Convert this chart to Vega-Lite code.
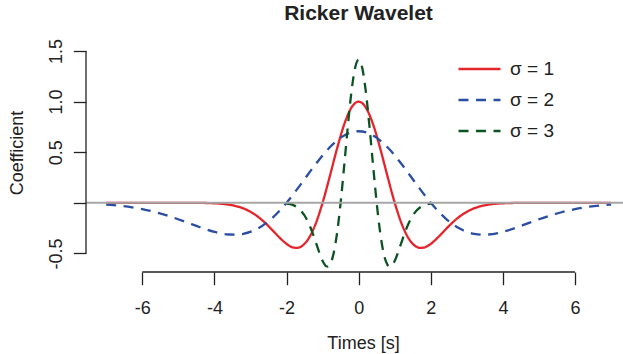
{
  "$schema": "https://vega.github.io/schema/vega-lite/v6.json",
  "width": 537,
  "height": 221,
  "autosize": {"type": "none"},
  "padding": {"left": 86, "top": 51, "right": 0, "bottom": 82},
  "title": {"text": "Ricker Wavelet", "font": "Liberation Sans", "fontSize": 21, "fontWeight": "bold", "color": "#222222", "anchor": "middle", "frame": "group", "baseline": "alphabetic", "offset": -2.7, "dx": 4},
  "config": {"view": {"stroke": null}, "font": "Liberation Sans"},
  "layer": [
    {
      "data": {"values": [
        {"t": -7, "v": 0, "s": "σ = 1"}, {"t": -6.5, "v": 0, "s": "σ = 1"}, {"t": -6, "v": 0, "s": "σ = 1"}, {"t": -5.5, "v": 0, "s": "σ = 1"}, {"t": -5, "v": 0, "s": "σ = 1"},
        {"t": -4.8, "v": -0.0002, "s": "σ = 1"}, {"t": -4.6, "v": -0.0005, "s": "σ = 1"}, {"t": -4.4, "v": -0.0011, "s": "σ = 1"}, {"t": -4.2, "v": -0.0025, "s": "σ = 1"}, {"t": -4.0, "v": -0.005, "s": "σ = 1"},
        {"t": -3.8, "v": -0.0098, "s": "σ = 1"}, {"t": -3.6, "v": -0.0183, "s": "σ = 1"}, {"t": -3.4, "v": -0.0326, "s": "σ = 1"}, {"t": -3.2, "v": -0.0552, "s": "σ = 1"}, {"t": -3.0, "v": -0.0889, "s": "σ = 1"},
        {"t": -2.8, "v": -0.1357, "s": "σ = 1"}, {"t": -2.6, "v": -0.196, "s": "σ = 1"}, {"t": -2.4, "v": -0.2672, "s": "σ = 1"}, {"t": -2.2, "v": -0.3415, "s": "σ = 1"}, {"t": -2.0, "v": -0.406, "s": "σ = 1"},
        {"t": -1.8, "v": -0.4433, "s": "σ = 1"}, {"t": -1.7, "v": -0.4455, "s": "σ = 1"}, {"t": -1.6, "v": -0.4337, "s": "σ = 1"}, {"t": -1.4, "v": -0.3603, "s": "σ = 1"}, {"t": -1.2, "v": -0.2142, "s": "σ = 1"},
        {"t": -1.0, "v": 0, "s": "σ = 1"}, {"t": -0.8, "v": 0.2614, "s": "σ = 1"}, {"t": -0.6, "v": 0.5346, "s": "σ = 1"}, {"t": -0.4, "v": 0.7754, "s": "σ = 1"}, {"t": -0.2, "v": 0.941, "s": "σ = 1"},
        {"t": 0, "v": 1, "s": "σ = 1"},
        {"t": 0.2, "v": 0.941, "s": "σ = 1"}, {"t": 0.4, "v": 0.7754, "s": "σ = 1"}, {"t": 0.6, "v": 0.5346, "s": "σ = 1"}, {"t": 0.8, "v": 0.2614, "s": "σ = 1"}, {"t": 1.0, "v": 0, "s": "σ = 1"},
        {"t": 1.2, "v": -0.2142, "s": "σ = 1"}, {"t": 1.4, "v": -0.3603, "s": "σ = 1"}, {"t": 1.6, "v": -0.4337, "s": "σ = 1"}, {"t": 1.7, "v": -0.4455, "s": "σ = 1"}, {"t": 1.8, "v": -0.4433, "s": "σ = 1"},
        {"t": 2.0, "v": -0.406, "s": "σ = 1"}, {"t": 2.2, "v": -0.3415, "s": "σ = 1"}, {"t": 2.4, "v": -0.2672, "s": "σ = 1"}, {"t": 2.6, "v": -0.196, "s": "σ = 1"}, {"t": 2.8, "v": -0.1357, "s": "σ = 1"},
        {"t": 3.0, "v": -0.0889, "s": "σ = 1"}, {"t": 3.2, "v": -0.0552, "s": "σ = 1"}, {"t": 3.4, "v": -0.0326, "s": "σ = 1"}, {"t": 3.6, "v": -0.0183, "s": "σ = 1"}, {"t": 3.8, "v": -0.0098, "s": "σ = 1"},
        {"t": 4.0, "v": -0.005, "s": "σ = 1"}, {"t": 4.2, "v": -0.0025, "s": "σ = 1"}, {"t": 4.4, "v": -0.0011, "s": "σ = 1"}, {"t": 4.6, "v": -0.0005, "s": "σ = 1"}, {"t": 4.8, "v": -0.0002, "s": "σ = 1"},
        {"t": 5, "v": 0, "s": "σ = 1"}, {"t": 5.5, "v": 0, "s": "σ = 1"}, {"t": 6, "v": 0, "s": "σ = 1"}, {"t": 6.5, "v": 0, "s": "σ = 1"}, {"t": 7, "v": 0, "s": "σ = 1"},

        {"t": -7, "v": -0.0174, "s": "σ = 2"}, {"t": -6.8, "v": -0.0231, "s": "σ = 2"}, {"t": -6.4, "v": -0.039, "s": "σ = 2"}, {"t": -6.0, "v": -0.0629, "s": "σ = 2"}, {"t": -5.6, "v": -0.096, "s": "σ = 2"},
        {"t": -5.2, "v": -0.1386, "s": "σ = 2"}, {"t": -4.8, "v": -0.1889, "s": "σ = 2"}, {"t": -4.4, "v": -0.2415, "s": "σ = 2"}, {"t": -4.0, "v": -0.2871, "s": "σ = 2"}, {"t": -3.6, "v": -0.3135, "s": "σ = 2"},
        {"t": -3.4, "v": -0.315, "s": "σ = 2"}, {"t": -3.2, "v": -0.3067, "s": "σ = 2"}, {"t": -2.8, "v": -0.2548, "s": "σ = 2"}, {"t": -2.4, "v": -0.1515, "s": "σ = 2"}, {"t": -2.0, "v": 0, "s": "σ = 2"},
        {"t": -1.6, "v": 0.1848, "s": "σ = 2"}, {"t": -1.2, "v": 0.378, "s": "σ = 2"}, {"t": -0.8, "v": 0.5483, "s": "σ = 2"}, {"t": -0.4, "v": 0.6654, "s": "σ = 2"}, {"t": 0, "v": 0.7071, "s": "σ = 2"},
        {"t": 0.4, "v": 0.6654, "s": "σ = 2"}, {"t": 0.8, "v": 0.5483, "s": "σ = 2"}, {"t": 1.2, "v": 0.378, "s": "σ = 2"}, {"t": 1.6, "v": 0.1848, "s": "σ = 2"}, {"t": 2.0, "v": 0, "s": "σ = 2"},
        {"t": 2.4, "v": -0.1515, "s": "σ = 2"}, {"t": 2.8, "v": -0.2548, "s": "σ = 2"}, {"t": 3.2, "v": -0.3067, "s": "σ = 2"}, {"t": 3.4, "v": -0.315, "s": "σ = 2"}, {"t": 3.6, "v": -0.3135, "s": "σ = 2"},
        {"t": 4.0, "v": -0.2871, "s": "σ = 2"}, {"t": 4.4, "v": -0.2415, "s": "σ = 2"}, {"t": 4.8, "v": -0.1889, "s": "σ = 2"}, {"t": 5.2, "v": -0.1386, "s": "σ = 2"}, {"t": 5.6, "v": -0.096, "s": "σ = 2"},
        {"t": 6.0, "v": -0.0629, "s": "σ = 2"}, {"t": 6.4, "v": -0.039, "s": "σ = 2"}, {"t": 6.8, "v": -0.0231, "s": "σ = 2"}, {"t": 7, "v": -0.0174, "s": "σ = 2"},

        {"t": -2.0, "v": -0.0071, "s": "σ = 3"}, {"t": -1.9, "v": -0.0139, "s": "σ = 3"}, {"t": -1.8, "v": -0.0259, "s": "σ = 3"}, {"t": -1.7, "v": -0.0461, "s": "σ = 3"}, {"t": -1.6, "v": -0.0781, "s": "σ = 3"},
        {"t": -1.5, "v": -0.1257, "s": "σ = 3"}, {"t": -1.4, "v": -0.1919, "s": "σ = 3"}, {"t": -1.3, "v": -0.2772, "s": "σ = 3"}, {"t": -1.2, "v": -0.3779, "s": "σ = 3"}, {"t": -1.1, "v": -0.483, "s": "σ = 3"},
        {"t": -1.0, "v": -0.5742, "s": "σ = 3"}, {"t": -0.9, "v": -0.6269, "s": "σ = 3"}, {"t": -0.85, "v": -0.63, "s": "σ = 3"}, {"t": -0.8, "v": -0.6133, "s": "σ = 3"}, {"t": -0.7, "v": -0.5095, "s": "σ = 3"},
        {"t": -0.6, "v": -0.3029, "s": "σ = 3"}, {"t": -0.5, "v": 0, "s": "σ = 3"}, {"t": -0.4, "v": 0.3697, "s": "σ = 3"}, {"t": -0.3, "v": 0.756, "s": "σ = 3"}, {"t": -0.2, "v": 1.0966, "s": "σ = 3"},
        {"t": -0.1, "v": 1.3308, "s": "σ = 3"}, {"t": 0, "v": 1.4142, "s": "σ = 3"}, {"t": 0.1, "v": 1.3308, "s": "σ = 3"}, {"t": 0.2, "v": 1.0966, "s": "σ = 3"}, {"t": 0.3, "v": 0.756, "s": "σ = 3"},
        {"t": 0.4, "v": 0.3697, "s": "σ = 3"}, {"t": 0.5, "v": 0, "s": "σ = 3"}, {"t": 0.6, "v": -0.3029, "s": "σ = 3"}, {"t": 0.7, "v": -0.5095, "s": "σ = 3"}, {"t": 0.8, "v": -0.6133, "s": "σ = 3"},
        {"t": 0.85, "v": -0.63, "s": "σ = 3"}, {"t": 0.9, "v": -0.6269, "s": "σ = 3"}, {"t": 1.0, "v": -0.5742, "s": "σ = 3"}, {"t": 1.1, "v": -0.483, "s": "σ = 3"}, {"t": 1.2, "v": -0.3779, "s": "σ = 3"},
        {"t": 1.3, "v": -0.2772, "s": "σ = 3"}, {"t": 1.4, "v": -0.1919, "s": "σ = 3"}, {"t": 1.5, "v": -0.1257, "s": "σ = 3"}, {"t": 1.6, "v": -0.0781, "s": "σ = 3"}, {"t": 1.7, "v": -0.0461, "s": "σ = 3"},
        {"t": 1.8, "v": -0.0259, "s": "σ = 3"}, {"t": 1.9, "v": -0.0139, "s": "σ = 3"}, {"t": 2.0, "v": -0.0071, "s": "σ = 3"}
      ]},
      "mark": {"type": "line", "strokeWidth": 2.3, "interpolate": "monotone"},
      "encoding": {
        "x": {
          "field": "t", "type": "quantitative",
          "scale": {"domain": [-7.56, 7.33], "nice": false, "zero": false},
          "axis": {
            "values": [-6, -4, -2, 0, 2, 4, 6], "domain": false, "grid": false,
            "tickSize": 12.7, "tickWidth": 1.3, "tickColor": "#222222",
            "labelExpr": "toString(datum.value)", "labelFont": "Liberation Sans", "labelFontSize": 18, "labelColor": "#222222",
            "labelBaseline": "alphabetic", "labelPadding": 28.5, "labelFlush": false, "labelOverlap": false, "labelBound": false,
            "title": "Times [s]", "titleFont": "Liberation Sans", "titleFontSize": 18, "titleFontWeight": "normal", "titleColor": "#222222",
            "titleBaseline": "alphabetic", "titleAlign": "center", "titleX": 277, "titleY": 76
          }
        },
        "y": {
          "field": "v", "type": "quantitative",
          "scale": {"domain": [-0.684, 1.5], "nice": false, "zero": false},
          "axis": {
            "values": [-0.5, 0, 0.5, 1, 1.5], "domain": false, "grid": false,
            "tickSize": 12.7, "tickWidth": 1.3, "tickColor": "#222222",
            "labelExpr": "datum.value == 0 ? '' : (datum.value == 1 ? '1.0' : toString(datum.value))",
            "labelAngle": -90, "labelAlign": "center", "labelBaseline": "alphabetic", "labelPadding": 12,
            "labelFont": "Liberation Sans", "labelFontSize": 18, "labelColor": "#222222",
            "labelFlush": false, "labelOverlap": false, "labelBound": false,
            "title": "Coefficient", "titleFont": "Liberation Sans", "titleFontSize": 18, "titleFontWeight": "normal", "titleColor": "#222222",
            "titleAngle": -90, "titleBaseline": "alphabetic", "titleAlign": "center", "titleX": -63.5, "titleY": 101.5
          }
        },
        "color": {
          "field": "s", "type": "nominal",
          "scale": {"domain": ["σ = 1", "σ = 2", "σ = 3"], "range": ["#e4262c", "#2a4ea2", "#0b5322"]},
          "legend": {"title": null, "orient": "none", "legendX": 371, "legendY": 3.75, "padding": 0,
            "symbolType": "stroke", "symbolSize": 1764, "symbolStrokeWidth": 2.3, "clipHeight": 28.5, "rowPadding": 2,
            "labelFont": "Liberation Sans", "labelFontSize": 19, "labelColor": "#222222", "labelOffset": 8}
        },
        "strokeDash": {
          "field": "s", "type": "nominal",
          "scale": {"domain": ["σ = 1", "σ = 2", "σ = 3"], "range": [[1, 0], [10, 7.5], [10, 7.5]]},
          "legend": {"title": null, "orient": "none", "legendX": 371, "legendY": 3.75, "padding": 0,
            "symbolType": "stroke", "symbolSize": 1764, "symbolStrokeWidth": 2.3, "clipHeight": 28.5, "rowPadding": 2,
            "labelFont": "Liberation Sans", "labelFontSize": 19, "labelColor": "#222222", "labelOffset": 8}
        }
      }
    },
    {
      "data": {"values": [{}]},
      "mark": {"type": "rule", "color": "#a6a6a6", "strokeWidth": 2},
      "encoding": {"y": {"datum": 0}}
    },
    {
      "data": {"values": [{}]},
      "mark": {"type": "rule", "color": "#222222", "strokeWidth": 1.3},
      "encoding": {"x": {"datum": -6}, "x2": {"datum": 6}, "y": {"datum": -0.684}}
    },
    {
      "data": {"values": [{}]},
      "mark": {"type": "rule", "color": "#222222", "strokeWidth": 1.3},
      "encoding": {"x": {"datum": -7.56}, "y": {"datum": -0.5}, "y2": {"datum": 1.5}}
    }
  ]
}
